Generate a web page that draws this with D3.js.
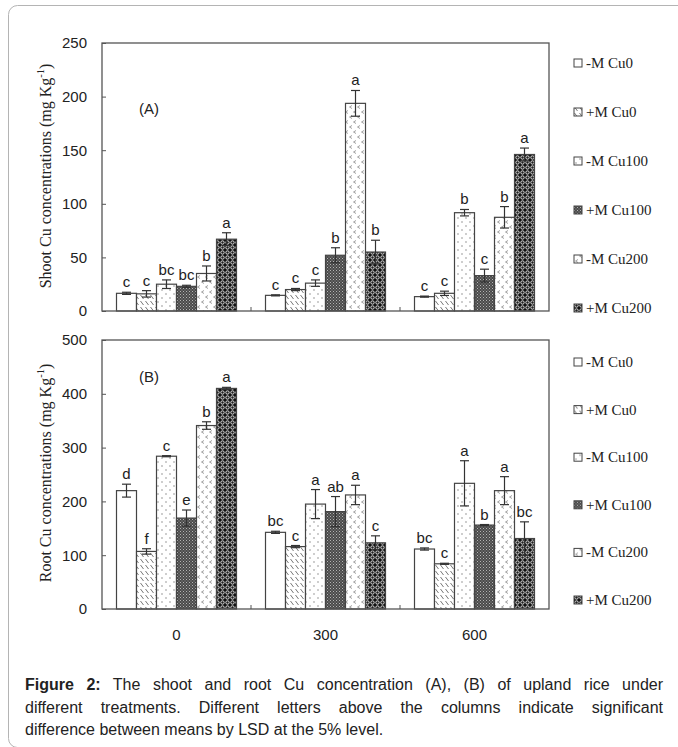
<!DOCTYPE html>
<html>
<head>
<meta charset="utf-8">
<script src="https://cdn.jsdelivr.net/npm/d3@7"></script>
<style>
  body { margin: 0; background: #fff; }
  #wrap { position: relative; width: 678px; height: 747px; overflow: hidden; }
  #caption {
    position: absolute; left: 25px; top: 674px; width: 638px;
    font-family: "Liberation Sans", Arial, sans-serif; font-size: 16px;
    color: #222; line-height: 22.5px;
  }
  #caption .just { text-align: justify; text-align-last: justify; }
</style>
</head>
<body>
<div id="wrap">
  <svg id="svg" width="678" height="747"></svg>
  <div id="caption"></div>
</div>
<script>
// groups on the x axis (Cu added, mg/kg) and treatments
var categories = ["0", "300", "600"];
var seriesNames = ["-M Cu0", "+M Cu0", "-M Cu100", "+M Cu100", "-M Cu200", "+M Cu200"];

var shootTicks = [0, 50, 100, 150, 200, 250];
var rootTicks = [0, 100, 200, 300, 400, 500];

// shoot Cu (A), one row per treatment, one value per group
var shootMean = [
  [16.5, 14.6, 13.4],
  [16, 20, 16.5],
  [25, 26, 91.7],
  [23, 52, 33],
  [35, 193.7, 87.4],
  [67, 55, 146]
];
var shootErr = [
  [1, 0.5, 0.5],
  [3, 1, 2],
  [4, 3, 3],
  [1, 7, 6],
  [7, 12, 10],
  [6, 11, 6]
];
var shootLetters = [
  ["c", "c", "c"],
  ["c", "c", "c"],
  ["bc", "c", "b"],
  ["bc", "b", "c"],
  ["b", "a", "b"],
  ["a", "b", "a"]
];

// root Cu (B)
var rootMean = [
  [220, 142.5, 111.5],
  [107, 116, 84],
  [284, 195, 233.6],
  [169, 181, 156],
  [341, 212, 220],
  [410, 123, 131]
];
var rootErr = [
  [12, 2, 2],
  [5, 2, 1],
  [1, 27, 42],
  [15, 28, 1],
  [7, 18, 26],
  [2, 13, 31]
];
var rootLetters = [
  ["d", "bc", "bc"],
  ["f", "c", "c"],
  ["c", "a", "a"],
  ["e", "ab", "b"],
  ["b", "a", "a"],
  ["a", "c", "bc"]
];

var sans = '"Liberation Sans", Arial, sans-serif';
var serif = '"Liberation Serif", "Times New Roman", serif';

var svg = d3.select("#svg");

// outer frame of the figure
svg.append("rect")
  .attr("x", 8.5).attr("y", 5.5)
  .attr("width", 720).attr("height", 742)
  .attr("rx", 9)
  .attr("fill", "none")
  .attr("stroke", "#b4b4b4")
  .attr("stroke-width", 1);

// fill patterns
var defs = svg.append("defs");

function pattern(id, w, h, bg) {
  var p = defs.append("pattern")
    .attr("id", id)
    .attr("patternUnits", "userSpaceOnUse")
    .attr("width", w).attr("height", h);
  p.append("rect").attr("width", w).attr("height", h).attr("fill", bg);
  return p;
}

pattern("p0", 4, 4, "#fff");

var p1 = pattern("p1", 5, 6, "#fff");
p1.append("path").attr("d", "M0.5,1 L3.5,5").attr("stroke", "#666").attr("stroke-width", 0.9);

var p2 = pattern("p2", 8, 8, "#fff");
p2.append("circle").attr("cx", 2).attr("cy", 2).attr("r", 0.7).attr("fill", "#777");
p2.append("circle").attr("cx", 6).attr("cy", 6).attr("r", 0.7).attr("fill", "#777");

var p3 = pattern("p3", 3, 3, "#4a4a4a");
p3.append("rect").attr("x", 0).attr("y", 0).attr("width", 1).attr("height", 1).attr("fill", "#b4b4b4");
p3.append("rect").attr("x", 1.5).attr("y", 1.5).attr("width", 1).attr("height", 1).attr("fill", "#9a9a9a");

var p4 = pattern("p4", 8, 10, "#fff");
p4.append("path").attr("d", "M4,0.5 L1.5,2 L4,3.5").attr("fill", "none").attr("stroke", "#888").attr("stroke-width", 0.8);
p4.append("path").attr("d", "M8,5.5 L5.5,7 L8,8.5").attr("fill", "none").attr("stroke", "#888").attr("stroke-width", 0.8);

var p5 = pattern("p5", 5, 5, "#111");
p5.append("circle").attr("cx", 2.5).attr("cy", 2.5).attr("r", 1.7)
  .attr("fill", "#222").attr("stroke", "#eee").attr("stroke-width", 0.9);

var fills = ["url(#p0)", "url(#p1)", "url(#p2)", "url(#p3)", "url(#p4)", "url(#p5)"];

var left = 102, right = 549;

var panels = [
  { top: 43, bottom: 311, max: 250, ticks: shootTicks, mean: shootMean, err: shootErr,
    letters: shootLetters, tag: "(A)", tagY: 109, title: "Shoot Cu concentrations (mg Kg",
    titleY: 176, legendTop: 63, legendStep: 49, xLabels: false },
  { top: 340, bottom: 609, max: 500, ticks: rootTicks, mean: rootMean, err: rootErr,
    letters: rootLetters, tag: "(B)", tagY: 377, title: "Root Cu concentrations (mg Kg",
    titleY: 473, legendTop: 362, legendStep: 47.6, xLabels: true }
];

panels.forEach(drawPanel);

function drawPanel(p) {
  var y = d3.scaleLinear().domain([0, p.max]).range([p.bottom, p.top]);
  var x0 = d3.scaleBand().domain(categories).range([left, right]).padding(0);
  var x1 = d3.scaleBand().domain(seriesNames).range([0, x0.bandwidth()])
    .paddingInner(0).paddingOuter(0.725);

  var g = svg.append("g");

  // flatten to one record per bar
  var bars = [];
  seriesNames.forEach(function (s, i) {
    categories.forEach(function (c, j) {
      bars.push({ s: s, i: i, c: c, v: p.mean[i][j], e: p.err[i][j], l: p.letters[i][j] });
    });
  });

  g.selectAll(".bar")
    .data(bars)
    .enter()
    .append("rect")
    .attr("class", "bar")
    .attr("x", function (d) { return x0(d.c) + x1(d.s); })
    .attr("y", function (d) { return y(d.v); })
    .attr("width", x1.bandwidth())
    .attr("height", function (d) { return y(0) - y(d.v); })
    .attr("fill", function (d) { return fills[d.i]; })
    .attr("stroke", "#444")
    .attr("stroke-width", 1.2);

  // error bars
  var eb = g.selectAll(".err")
    .data(bars)
    .enter()
    .append("g")
    .attr("class", "err")
    .attr("stroke", "#333")
    .attr("stroke-width", 1.2);
  function cx(d) { return x0(d.c) + x1(d.s) + x1.bandwidth() / 2; }
  eb.append("line")
    .attr("x1", cx).attr("x2", cx)
    .attr("y1", function (d) { return y(d.v - d.e); })
    .attr("y2", function (d) { return y(d.v + d.e); });
  [-1, 1].forEach(function (k) {
    eb.append("line")
      .attr("x1", function (d) { return cx(d) - 4.5; })
      .attr("x2", function (d) { return cx(d) + 4.5; })
      .attr("y1", function (d) { return y(d.v + k * d.e); })
      .attr("y2", function (d) { return y(d.v + k * d.e); });
  });

  // significance letters
  g.selectAll(".letter")
    .data(bars)
    .enter()
    .append("text")
    .attr("class", "letter")
    .attr("x", cx)
    .attr("y", function (d) { return y(d.v + d.e) - 5; })
    .attr("text-anchor", "middle")
    .attr("font-family", sans)
    .attr("font-size", 15)
    .attr("fill", "#222")
    .text(function (d) { return d.l; });

  // plot box
  g.append("rect")
    .attr("x", left).attr("y", p.top)
    .attr("width", right - left).attr("height", p.bottom - p.top)
    .attr("fill", "none")
    .attr("stroke", "#555")
    .attr("stroke-width", 1.3);

  // y axis with inward ticks
  var ya = g.append("g")
    .attr("transform", "translate(" + left + ",0)")
    .call(d3.axisLeft(y).tickValues(p.ticks).tickSizeInner(-4).tickSizeOuter(0).tickPadding(15));
  ya.select(".domain").remove();
  ya.selectAll(".tick line").attr("stroke", "#555");
  ya.selectAll(".tick text").attr("font-family", sans).attr("font-size", 15).attr("fill", "#222");

  // group boundary ticks on the x axis
  g.selectAll(".gtick")
    .data(categories.slice(1))
    .enter()
    .append("line")
    .attr("x1", function (c) { return x0(c); })
    .attr("x2", function (c) { return x0(c); })
    .attr("y1", p.bottom)
    .attr("y2", p.bottom - 4)
    .attr("stroke", "#555");

  if (p.xLabels) {
    var xa = g.append("g")
      .attr("transform", "translate(0," + p.bottom + ")")
      .call(d3.axisBottom(x0).tickSize(0).tickPadding(20));
    xa.select(".domain").remove();
    xa.selectAll(".tick text").attr("font-family", sans).attr("font-size", 15).attr("fill", "#222");
  }

  // panel tag
  g.append("text")
    .attr("x", 149).attr("y", p.tagY).attr("dy", "0.35em")
    .attr("text-anchor", "middle")
    .attr("font-family", sans).attr("font-size", 15).attr("fill", "#222")
    .text(p.tag);

  // y title
  var t = g.append("text")
    .attr("transform", "translate(45," + p.titleY + ") rotate(-90)")
    .attr("text-anchor", "middle")
    .attr("dy", "0.35em")
    .attr("font-family", serif).attr("font-size", 16).attr("fill", "#222");
  t.append("tspan").text(p.title);
  t.append("tspan").attr("font-size", 10.5).attr("dy", "-0.6em").text("-1");
  t.append("tspan").attr("dy", "0.4em").text(")");

  // legend
  var legend = g.append("g")
    .selectAll("g")
    .data(seriesNames)
    .enter()
    .append("g")
    .attr("transform", function (d, i) {
      return "translate(574," + (p.legendTop + i * p.legendStep) + ")";
    });
  legend.append("rect")
    .attr("x", 0).attr("y", -4)
    .attr("width", 8).attr("height", 8)
    .attr("fill", function (d, i) { return fills[i]; })
    .attr("stroke", "#444")
    .attr("stroke-width", 1);
  legend.append("text")
    .attr("x", 12)
    .attr("dy", "0.33em")
    .attr("font-family", serif).attr("font-size", 15).attr("fill", "#222")
    .text(function (d) { return d; });
}

// caption
var cap = d3.select("#caption");
var l1 = cap.append("div").attr("class", "just");
l1.append("b").text("Figure 2:");
l1.append("span").text(" The shoot and root Cu concentration (A), (B) of upland rice under");
cap.append("div").attr("class", "just")
  .text("different treatments. Different letters above the columns indicate significant");
cap.append("div")
  .text("difference between means by LSD at the 5% level.");
</script>
</body>
</html>
